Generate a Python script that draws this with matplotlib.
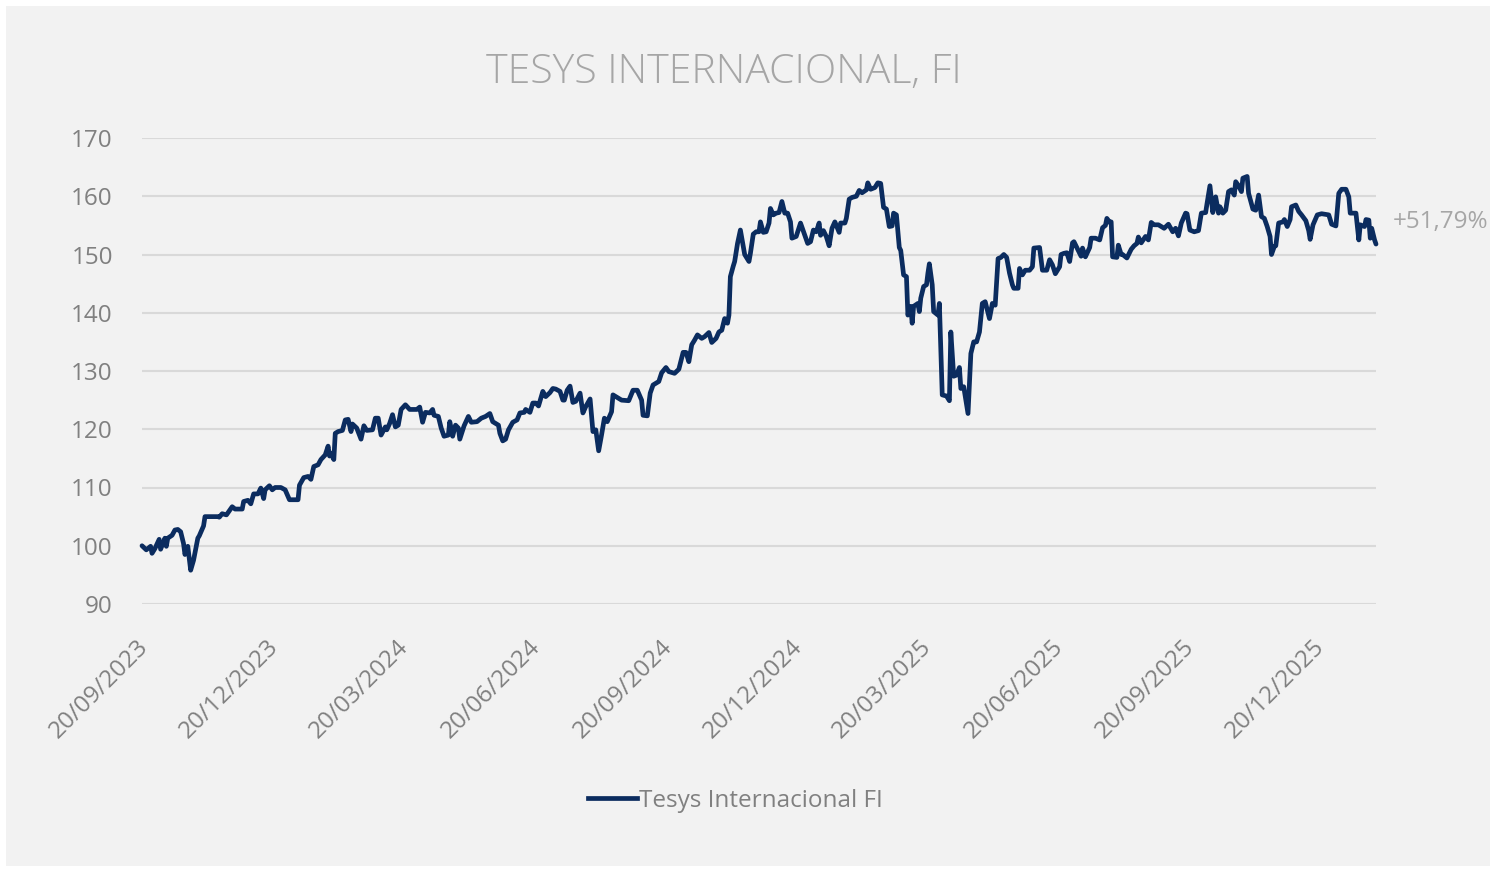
import matplotlib
matplotlib.use("Agg")
import matplotlib.pyplot as plt
import matplotlib.dates as mdates
import matplotlib.transforms as mtransforms
from matplotlib.patches import Rectangle
from matplotlib.lines import Line2D
import pandas as pd

# ---------------- data ----------------
title = "TESYS INTERNACIONAL, FI"
series_name = "Tesys Internacional FI"
end_label = "+51,79%"
start_date = "2023-09-20"

day_offsets = [
    0, 3, 6, 7, 9, 12, 13, 16, 17, 18, 21, 23, 25, 27, 29, 30, 32, 34, 36, 39,
    40, 43, 44, 53, 54, 56, 59, 63, 65, 70, 71, 74, 76, 78, 81, 83, 85, 86, 89, 91,
    93, 97, 100, 103, 109, 110, 113, 116, 118, 120, 123, 125, 128, 130, 131, 132, 134, 135, 137, 140,
    142, 144, 146, 147, 150, 153, 155, 157, 161, 163, 165, 167, 170,
    171, 173, 175, 177, 179, 181, 184, 187, 192, 194, 196, 198, 201, 203, 204, 207, 209, 211, 214, 215,
    217, 219, 221, 222, 225, 228, 230, 234, 237, 240, 243, 245, 249, 250, 252, 254, 256, 259, 262, 264,
    267, 268, 271, 273, 275, 277, 280, 282, 285, 287, 289, 292, 294, 295, 297, 299, 301, 303, 306, 308,
    310, 313, 315, 317, 319, 321, 323, 325, 328, 329, 331, 335, 340,
    343, 346, 349, 350, 353, 355, 357, 359, 361, 363, 366, 368, 372, 375, 378, 380, 382, 384, 386, 388,
    391, 393, 396, 398, 401, 403, 405, 407, 409, 410, 411, 413, 414, 416, 418, 420, 421, 424, 425, 427,
    429, 431, 432, 434, 436, 438, 439, 441, 443, 445, 447, 449, 451, 453, 454, 457, 460, 463, 465, 467,
    469, 471, 473, 474, 476, 478, 480, 482, 484, 487, 488, 491, 492, 494, 496, 499, 501, 503, 506, 507,
    509, 512, 514,
    516, 518, 520, 522, 524, 525, 527, 529, 530, 532, 534, 535, 537, 538, 539, 542, 543, 544, 546, 548,
    549, 550, 552, 553, 556, 557, 559, 562, 564, 565, 567, 569, 571, 572, 574, 577, 579, 581, 583, 585,
    587, 589, 592, 594, 596, 598, 600, 602, 604, 606, 608, 609, 612, 613, 615, 617, 620, 622, 623, 627,
    629, 632, 634, 636, 638, 641, 642, 644, 646, 648, 650, 651, 653, 656, 657, 659, 662, 663, 666, 669,
    671, 673, 674, 676, 677, 678, 681, 682, 684, 685, 688, 691, 693, 695, 696, 698, 701, 703, 705, 707,
    710, 714, 717, 720, 722, 724, 726, 729, 730, 732, 735, 738, 740, 743, 744, 746, 748, 750, 752, 753,
    755, 757, 759, 761, 763, 764, 766, 768, 769, 772, 773, 776, 778, 780, 782, 784, 786, 788, 789, 791,
    792, 794, 797, 798, 800, 802, 803, 806, 808, 810, 813, 815, 816, 818, 821, 824, 829, 831, 834, 836,
    838, 841, 843, 844, 848, 850, 851, 854, 855, 857, 858, 859, 861, 862,
]

values = [
    100.0, 99.3, 99.9, 98.7, 99.5, 101.1, 99.4, 101.3, 99.9, 101.3, 101.8, 102.7, 102.8, 102.4, 100.4, 98.5, 99.9, 95.8, 97.5, 101.3,
    101.7, 103.4, 105.0, 105.0, 104.9, 105.5, 105.3, 106.7, 106.3, 106.3, 107.6, 107.8, 107.2, 108.9, 108.9, 109.9, 108.1, 109.6, 110.3, 109.6,
    110.0, 110.0, 109.6, 107.9, 107.9, 110.4, 111.7, 111.9, 111.4, 113.6, 113.9, 114.8, 115.6, 117.1, 115.4, 115.9, 114.8, 119.3, 119.6, 119.8,
    121.6, 121.7, 119.6, 120.9, 120.2, 118.3, 120.6, 119.8, 119.9, 121.9, 121.9, 119.0, 120.4,
    119.9, 121.0, 122.5, 120.4, 120.7, 123.4, 124.2, 123.4, 123.4, 123.8, 121.2, 122.9, 122.8, 123.4, 122.4, 122.2, 120.2, 118.8, 119.0, 121.3,
    118.8, 120.7, 120.2, 118.3, 120.6, 122.2, 121.2, 121.3, 121.9, 122.2, 122.7, 121.3, 120.7, 119.3, 118.0, 118.3, 119.9, 121.2, 121.6, 122.8,
    122.9, 123.4, 122.9, 124.5, 124.5, 124.0, 126.5, 125.6, 126.3, 127.0, 126.9, 126.5, 125.0, 125.0, 126.7, 127.4, 124.6, 124.8, 126.2, 122.8,
    123.9, 125.2, 119.6, 119.9, 116.3, 119.0, 121.9, 121.3, 123.0, 125.9, 125.6, 125.0, 124.9,
    126.7, 126.7, 125.0, 122.4, 122.3, 126.2, 127.6, 127.9, 128.2, 129.7, 130.6, 129.9, 129.6, 130.3, 133.2, 133.2, 131.6, 134.5, 135.3, 136.2,
    135.6, 135.9, 136.6, 134.9, 135.6, 136.7, 137.0, 139.0, 138.2, 139.6, 146.2, 148.0, 148.8, 151.9, 154.2, 151.4, 150.0, 148.8, 150.2, 153.5,
    153.9, 153.9, 155.6, 153.8, 153.9, 155.4, 157.9, 156.8, 157.1, 157.2, 159.1, 157.1, 157.1, 155.6, 152.8, 153.1, 155.4, 153.3, 151.9, 152.2,
    154.2, 153.9, 155.4, 153.3, 154.1, 153.1, 151.5, 154.5, 155.6, 153.8, 155.4, 155.4, 156.2, 159.5, 159.8, 160.0, 161.0, 160.6, 161.1, 162.3,
    161.2, 161.5, 162.3,
    162.2, 158.1, 157.8, 154.8, 154.9, 157.1, 156.8, 151.2, 150.7, 146.5, 146.2, 139.6, 141.1, 138.2, 141.1, 141.6, 140.2, 142.5, 144.5, 144.8,
    146.8, 148.4, 144.8, 140.2, 139.6, 141.6, 125.9, 125.7, 124.9, 136.7, 129.1, 129.3, 130.6, 127.0, 127.3, 122.7, 133.0, 135.0, 135.0, 136.7,
    141.6, 141.9, 139.0, 141.6, 141.3, 149.3, 149.5, 150.0, 149.5, 146.8, 144.8, 144.2, 144.2, 147.6, 146.5, 147.3, 147.3, 147.9, 151.1, 151.2,
    147.3, 147.3, 149.1, 148.2, 146.7, 147.9, 150.0, 150.2, 150.3, 148.8, 152.0, 152.2, 151.2, 149.7, 151.1, 149.6, 151.2, 152.8, 152.8, 152.5,
    154.6, 155.0, 156.2, 155.5, 155.6, 149.6, 149.5, 151.6, 150.0, 150.0, 149.4, 150.9, 151.5, 151.9, 153.0, 152.0, 153.1, 152.5, 155.5, 155.1,
    155.1, 154.5, 155.2, 153.9, 154.5, 153.2, 155.4, 157.1, 157.0, 154.2, 153.9, 154.1, 157.1, 157.2, 158.8, 161.8, 157.2, 159.9, 157.1, 158.2,
    157.1, 157.6, 160.8, 161.1, 160.2, 162.5, 161.8, 160.8, 163.1, 163.4, 160.5, 157.8, 157.6, 160.2, 156.5, 156.2, 154.8, 153.1, 150.0, 151.4,
    151.5, 155.4, 155.6, 156.0, 154.8, 156.0, 158.2, 158.5, 157.4, 156.8, 155.8, 154.1, 152.6, 155.1, 156.8, 157.0, 156.8, 155.2, 154.9, 160.5,
    161.2, 161.2, 159.9, 157.1, 157.1, 152.5, 155.1, 154.8, 156.0, 155.9, 152.8, 154.5, 152.5, 151.79,
]

tick_dates = ["2023-09-20", "2023-12-20", "2024-03-20", "2024-06-20", "2024-09-20",
              "2024-12-20", "2025-03-20", "2025-06-20", "2025-09-20", "2025-12-20"]
y_ticks = [90, 100, 110, 120, 130, 140, 150, 160, 170]

# ---------------- figure ----------------
W, H = 1492, 869
plt.rcParams["font.family"] = ["Open Sans", "DejaVu Sans"]

dates = pd.Timestamp(start_date) + pd.to_timedelta(day_offsets, unit="D")

fig = plt.figure(figsize=(W / 100, H / 100), dpi=100)
fig.patch.set_facecolor("white")
fig.patches.append(Rectangle((6 / W, 3 / H), (1490 - 6) / W, (866 - 6) / H,
                             transform=fig.transFigure, facecolor="#F2F2F2",
                             edgecolor="none", zorder=-10))

ax = fig.add_axes([142 / W, 1 - 604 / H, (1376 - 142) / W, (604 - 138) / H])
ax.set_facecolor("none")

line_color = "#0B2C5F"
ax.plot(dates, values, color=line_color, lw=3.4, solid_joinstyle="round",
        solid_capstyle="round", zorder=3, clip_on=False)

ax.set_ylim(y_ticks[0], y_ticks[-1])
ax.set_yticks(y_ticks)
ax.set_xlim(dates[0], dates[-1])
ax.set_xticks(pd.to_datetime(tick_dates))
ax.xaxis.set_major_formatter(mdates.DateFormatter("%d/%m/%Y"))

ax.grid(axis="y", color="#D9D9D9", lw=1.5, zorder=0)
ax.grid(axis="x", visible=False)
for s in ax.spines.values():
    s.set_visible(False)
ax.tick_params(axis="both", length=0, labelcolor="#808080")
ax.tick_params(axis="y", pad=21, labelsize=17.5)
ax.tick_params(axis="x", pad=22, labelsize=17.5)
shift = mtransforms.ScaledTranslation(-6 / 100, 0, fig.dpi_scale_trans)
for lab in ax.get_xticklabels():
    lab.set_rotation(45)
    lab.set_ha("right")
    lab.set_va("top")
    lab.set_rotation_mode("anchor")
    lab.set_transform(lab.get_transform() + shift)

fig.text(724 / W, 1 - 73 / H, title, ha="center", va="center",
         fontsize=29.5, color="#A6A6A6", fontweight="light")

fig.text(1393 / W, 1 - 222 / H, end_label, ha="left", va="center",
         fontsize=17.5, color="#A6A6A6")

handle = Line2D([], [], color=line_color, lw=3.4)
fig.legend([handle], [series_name], loc="center",
           bbox_to_anchor=(735 / W, 1 - 801 / H), frameon=False,
           fontsize=17.5, labelcolor="#808080", handlelength=2.05,
           handletextpad=0.05)

fig.savefig("out.png", dpi=100, facecolor=fig.get_facecolor())
